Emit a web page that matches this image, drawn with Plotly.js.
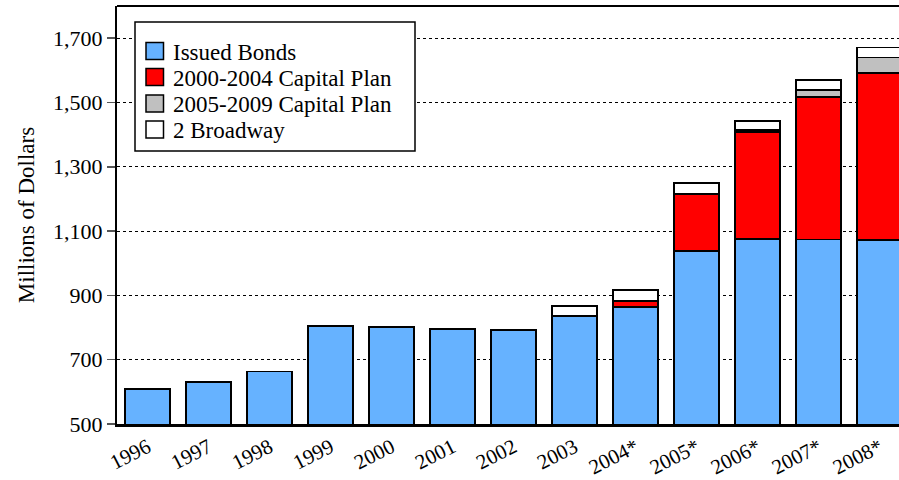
<!DOCTYPE html>
<html>
<head>
<meta charset="utf-8">
<script src="https://cdn.plot.ly/plotly-3.0.1.min.js"></script>
<style>
html,body{margin:0;padding:0;background:#fff;overflow:hidden;}
#chart{width:899px;height:480px;}
</style>
</head>
<body>
<div id="chart"></div>
<script>
const years = ["1996","1997","1998","1999","2000","2001","2002","2003","2004*","2005*","2006*","2007*","2008*"];
const issuedBonds   = [609, 631, 663, 806, 801, 795, 792, 836, 865, 1038, 1075, 1074, 1072];
const capPlan0004   = [0, 0, 0, 0, 0, 0, 0, 0, 17, 177, 332, 442, 520];
const capPlan0509   = [0, 0, 0, 0, 0, 0, 0, 0, 0, 0, 8, 22, 48];
const twoBroadway   = [0, 0, 0, 0, 0, 0, 0, 32, 35, 35, 28, 31, 31];
const seriesNames = ["Issued Bonds", "2000-2004 Capital Plan", "2005-2009 Capital Plan", "2 Broadway"];
const yTicks = [500, 700, 900, 1100, 1300, 1500, 1700];

const font = "Liberation Serif, Times New Roman, serif";
const colors = ["#66B2FF", "#FF0000", "#C0C0C0", "#FFFFFF"];
const vals = [issuedBonds, capPlan0004, capPlan0509, twoBroadway];

const traces = vals.map((v, i) => ({
  type: "bar",
  name: seriesNames[i],
  x: years,
  y: v,
  width: 0.74,
  marker: {color: colors[i], line: {color: "#000", width: 1.8}},
  hoverinfo: "x+y+name"
}));

// plot area geometry (pixels) for the hand-built legend box
const W = 899, H = 480, mL = 117, mR = 0, mT = 6, mB = 56;
const pw = W - mL - mR, ph = H - mT - mB;
const px = x => (x - mL) / pw;
const py = y => (H - mB - y) / ph;

const shapes = [
  {type: "line", xref: "paper", yref: "paper", x0: 0, x1: 1, y0: 1, y1: 1, line: {color: "#000", width: 2}},
  {type: "rect", xref: "paper", yref: "paper", x0: px(135), x1: px(415), y0: py(151), y1: py(22),
   fillcolor: "#fff", line: {color: "#000", width: 1.5}, layer: "above"}
];
const annotations = [];
const rowY = [51, 77, 103.5, 129.5];
seriesNames.forEach((n, i) => {
  shapes.push({type: "rect", xref: "paper", yref: "paper", x0: px(146), x1: px(163.5), y0: py(rowY[i] + 8.5), y1: py(rowY[i] - 8.5),
    fillcolor: colors[i], line: {color: "#000", width: 1.5}, layer: "above"});
  annotations.push({xref: "paper", yref: "paper", x: px(171), y: py(rowY[i] + 1), xanchor: "left", yanchor: "middle",
    text: n, showarrow: false, font: {family: font, size: 23, color: "#000"}});
});

const layout = {
  width: W, height: H,
  margin: {l: mL, r: mR, t: mT, b: mB},
  barmode: "stack",
  paper_bgcolor: "#fff",
  plot_bgcolor: "#fff",
  font: {family: font, color: "#000", size: 21},
  showlegend: false,
  xaxis: {
    type: "category",
    range: [-0.5, 12.32],
    tickangle: -27,
    showline: true, linecolor: "#000", linewidth: 3,
    ticks: "",
    showgrid: false,
    tickfont: {family: font, size: 21, color: "#000"}
  },
  yaxis: {
    range: [500, 1800],
    tickvals: yTicks,
    ticktext: yTicks.map(v => v.toLocaleString("en-US")),
    showline: true, linecolor: "#000", linewidth: 2,
    ticks: "outside", ticklen: 8, tickcolor: "#555", tickwidth: 1.5,
    showgrid: true, gridcolor: "#000", gridwidth: 1, griddash: "dot",
    zeroline: false,
    tickfont: {family: font, size: 22, color: "#000"},
    title: {text: "Millions of Dollars", font: {family: font, size: 23, color: "#000"}, standoff: 12}
  },
  shapes: shapes,
  annotations: annotations
};

Plotly.newPlot("chart", traces, layout, {displayModeBar: false, staticPlot: true});
</script>
</body>
</html>
